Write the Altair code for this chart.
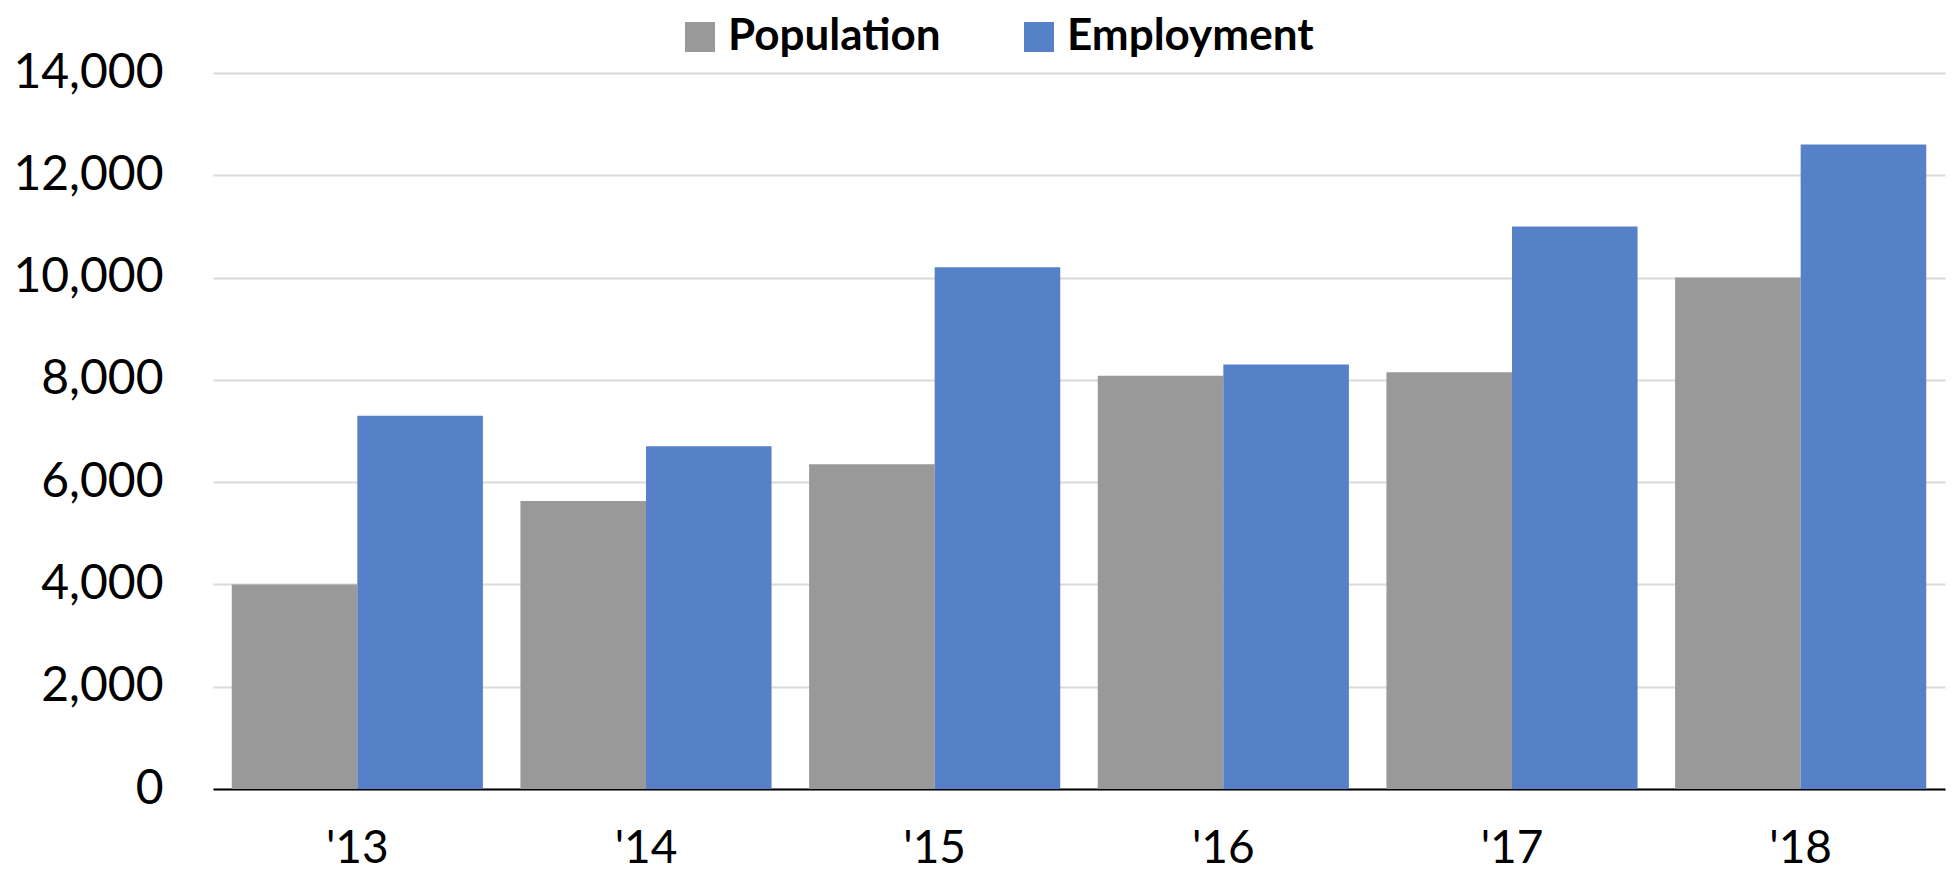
import altair as alt
import pandas as pd

years = ["'13", "'14", "'15", "'16", "'17", "'18"]
population = [4000, 5630, 6350, 8080, 8150, 10000]
employment = [7300, 6700, 10200, 8300, 11000, 12600]
series = ["Population", "Employment"]
colors = ["#999999", "#5681C9"]

rows = []
for i, y in enumerate(years):
    rows.append({"year": y, "series": series[0], "value": population[i]})
    rows.append({"year": y, "series": series[1], "value": employment[i]})
df = pd.DataFrame(rows)

FONT = "Lato"

chart = alt.Chart(df).mark_bar().encode(
    x=alt.X("year:N", sort=years, title=None,
            scale=alt.Scale(paddingInner=0.13, paddingOuter=0.065),
            axis=alt.Axis(labelAngle=0, ticks=False, labelFontSize=46, labelFont=FONT,
                          labelColor="#000000", labelPadding=37,
                          domainColor="#000000", domainWidth=2, grid=False)),
    xOffset=alt.XOffset("series:N", sort=series),
    y=alt.Y("value:Q", title=None,
            scale=alt.Scale(domain=[0, 14000]),
            axis=alt.Axis(values=[0, 2000, 4000, 6000, 8000, 10000, 12000, 14000],
                          format=",d", ticks=False, domain=False, labelFontSize=48,
                          labelFont=FONT, labelColor="#000000", labelPadding=50,
                          gridColor="#D9D9D9", gridWidth=2)),
    color=alt.Color("series:N", sort=series,
                    scale=alt.Scale(domain=series, range=colors),
                    legend=alt.Legend(title=None, orient="none", direction="horizontal",
                                      legendX=465, legendY=-58,
                                      symbolType="square", symbolSize=900,
                                      symbolStrokeWidth=0, symbolOpacity=1,
                                      labelFontSize=44, labelFont=FONT, labelLimit=600,
                                      labelFontWeight="bold", labelColor="#000000",
                                      labelOffset=6, columnPadding=76)),
).properties(
    width=1732,
    height=716,
    autosize=alt.AutoSizeParams(type="none"),
    padding={"left": 205, "top": 65, "right": 1, "bottom": 84},
).configure_view(stroke=None).configure_bar(opacity=1)

chart.save("out.html", embed_options={"renderer": "svg", "actions": False})
